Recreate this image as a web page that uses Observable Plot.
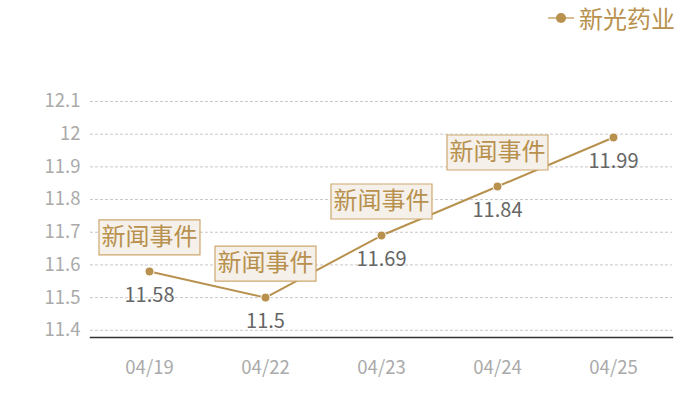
<!DOCTYPE html>
<html>
<head>
<meta charset="utf-8">
<script src="https://cdn.jsdelivr.net/npm/d3@7"></script>
<script src="https://cdn.jsdelivr.net/npm/@observablehq/plot@0.6"></script>
<style>
  html, body { margin: 0; padding: 0; background: #fff; }
  body { width: 700px; height: 400px; overflow: hidden; font-family: "Noto Sans CJK SC", "Noto Sans", sans-serif; }
  #legend { height: 40px; position: relative; }
  #legend .item { position: absolute; left: 548px; top: 1px; display: flex; align-items: center; color: #b8914e; font-size: 24px; line-height: 34px; }
  #legend .sym { position: relative; width: 26px; height: 2px; background: #d8bd92; margin-right: 5px; }
  #legend .sym::after { content: ""; position: absolute; left: 8px; top: -4px; width: 10px; height: 10px; border-radius: 50%; background: #b8914e; }
</style>
</head>
<body>
<div id="legend"><div class="item"><span class="sym"></span><span id="seriesName"></span></div></div>
<div id="chart"></div>
<script>
const seriesName = "新光药业";
const dates = ["04/19", "04/22", "04/23", "04/24", "04/25"];
const prices = [11.58, 11.5, 11.69, 11.84, 11.99];
const eventDates = ["04/19", "04/22", "04/23", "04/24"];
const eventLabel = "新闻事件";
const yTicks = [11.4, 11.5, 11.6, 11.7, 11.8, 11.9, 12, 12.1];

document.getElementById("seriesName").textContent = seriesName;

const data = dates.map((d, i) => ({date: d, price: prices[i]}));
const events = eventDates.map(d => ({date: d, price: prices[dates.indexOf(d)], label: eventLabel}));

const tan = "#b8914e";
const boxSymbol = {
  draw(ctx) { ctx.rect(-50.5, -17.5, 101, 35); }
};

const chart = Plot.plot({
  width: 700,
  height: 360,
  marginLeft: 90,
  marginRight: 28,
  marginTop: 61,
  marginBottom: 63,
  style: {fontFamily: "'Noto Sans CJK SC', 'Noto Sans', sans-serif", background: "transparent"},
  x: {type: "point", domain: dates, padding: 0.5, label: null},
  y: {domain: [11.378, 12.1], label: null},
  marks: [
    Plot.gridY(yTicks, {stroke: "#c8c8c8", strokeOpacity: 1, strokeDasharray: "3,2"}),
    Plot.axisY(yTicks, {tickSize: 0, tickPadding: 10, fontSize: 18.5, fill: "#aaa", label: null, tickFormat: d => String(d)}),
    Plot.axisX({tickSize: 0, tickPadding: 23, fontSize: 18.5, fill: "#aaa", label: null}),
    Plot.frame({anchor: "bottom", stroke: "#333", strokeWidth: 1.5}),
    Plot.line(data, {x: "date", y: "price", stroke: tan, strokeWidth: 2}),
    Plot.dot(data, {x: "date", y: "price", r: 4.5, fill: tan, stroke: "#fff", strokeWidth: 1}),
    Plot.text(data, {x: "date", y: "price", text: d => String(d.price), dy: 24, fill: "#666", fontSize: 20}),
    Plot.dot(events, {x: "date", y: "price", symbol: boxSymbol, dy: -34, fill: "#f5f0ea", stroke: "#cda86e", strokeWidth: 1.2}),
    Plot.text(events, {x: "date", y: "price", text: "label", dy: -34, fill: tan, fontSize: 24})
  ]
});
document.getElementById("chart").appendChild(chart);
</script>
</body>
</html>
